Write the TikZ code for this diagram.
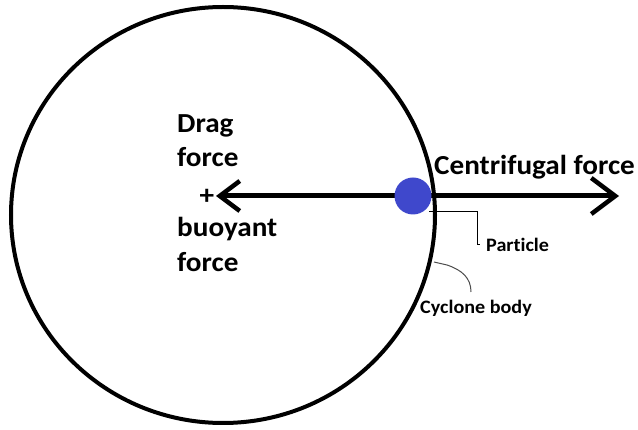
\documentclass[tikz,border=0pt]{standalone}
\usepackage{fontspec}
\setmainfont{Carlito}
\newfontfamily\widefont[FakeStretch=1.06, Ligatures=NoCommon]{Carlito}
\usetikzlibrary{arrows.meta}
\definecolor{partblue}{HTML}{3F48CC}
\tikzset{
  bigtxt/.style={font=\widefont\bfseries\fontsize{27.5}{34}\selectfont, inner sep=0pt, anchor=base west},
  smalltxt/.style={font=\widefont\bfseries\fontsize{19}{22}\selectfont, inner sep=0pt, anchor=base west},
  force/.style={line width=5pt, -{Straight Barb[length=20pt, width=30pt, line width=4.5pt]}},
  leader/.style={line width=1pt},
}
\begin{document}
\begin{tikzpicture}[x=1pt,y=-1pt]
\useasboundingbox (0,0) rectangle (638,430);
% cyclone body
\draw[line width=4pt] (223,215) ellipse [x radius=212, y radius=208];
\coordinate (bodypt) at (434,262);
% texts
\node[bigtxt] (drag) at (177,133) {Drag};
\node[bigtxt] (force1) at (177,167) {force};
\node[font=\widefont\bfseries\fontsize{27.5}{34}\selectfont, inner sep=0pt] (plus) at (207,197) {+};
\node[bigtxt] (buoy) at (177,237) {buoyant};
\node[bigtxt] (force2) at (177,272) {force};
\node[bigtxt] (cent) at (434,175) {Centrifugal force};
\node[smalltxt] (plbl) at (486,252) {Particle};
\node[smalltxt] (clbl) at (420,314) {Cyclone body};
% forces
\coordinate (pc) at (413,196);
\coordinate (ltip) at (216,196);
\coordinate (rtip) at (619,196);
\draw[force] (pc) -- (ltip);
\draw[force, -{Straight Barb[length=24pt, width=36pt, line width=4.5pt]}] (pc) -- (rtip);
% particle
\node[circle, fill=partblue, minimum size=37pt, inner sep=0pt] (particle) at (pc) {};
% leaders
\coordinate (pl1) at (477,212);
\coordinate (pl2) at (477,245);
\draw[leader] (particle.-30 |- pl1) -- (pl1) -- (pl2) -- ++(3,0);
\draw[leader, draw=black!70] (bodypt) -- (447,265) .. controls (462,270) and (471,278) .. (471,292);
\end{tikzpicture}
\end{document}
